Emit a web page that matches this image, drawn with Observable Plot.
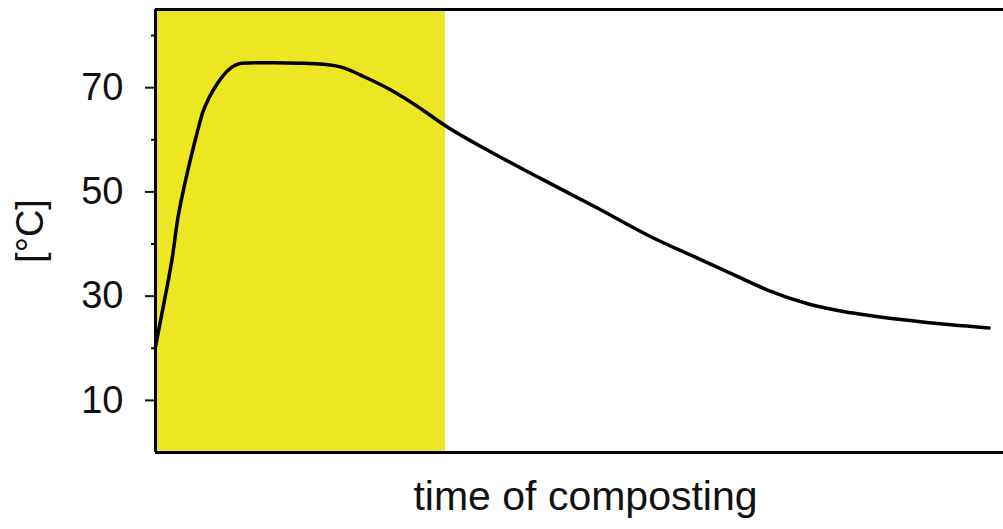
<!DOCTYPE html>
<html>
<head>
<meta charset="utf-8">
<script src="https://cdn.jsdelivr.net/npm/d3@7"></script>
<script src="https://cdn.jsdelivr.net/npm/@observablehq/plot@0.6"></script>
<style>
  html, body { margin: 0; padding: 0; background: white; }
  #chart { width: 1003px; height: 529px; }
</style>
</head>
<body>
<div id="chart"></div>
<script>
// time of composting (arbitrary units, 0–100 across the plot width)
const days = [0, 1.0, 2.0, 2.6, 3.3, 4.1, 4.9, 5.6, 6.3, 7.3, 8.6, 10.2, 14.0, 17.1, 18.7, 21.8, 24.6, 27.7, 30.9, 34.0, 39.5, 45.4, 52.1, 58.4, 63.9, 69.0, 72.1, 77.2, 82.0, 87.9, 93.8, 98.3];
// temperature [°C]
const temps = [20.3, 28.7, 37.6, 44.6, 50.4, 56.1, 61.3, 65.4, 68.0, 70.8, 73.4, 74.7, 74.8, 74.7, 74.6, 74.0, 72.1, 69.6, 66.4, 62.9, 57.7, 52.6, 46.9, 41.4, 37.3, 33.5, 31.2, 28.4, 26.8, 25.5, 24.5, 23.9];
// thermophilic phase (highlighted band)
const phaseStart = [0];
const phaseEnd = [34.2];
// axis ticks
const majorTicks = [10, 30, 50, 70];
const minorTicks = [20, 40, 60, 80];
const yDomain = [0, 85];
const xDomain = [0, 100];
const xLabel = "time of composting";
const yLabel = "[°C]";

const series = days.map((d, i) => ({day: d, temp: temps[i]}));
const bands = phaseStart.map((s, i) => ({x1: s, x2: phaseEnd[i]}));

const chart = Plot.plot({
  width: 1003,
  height: 529,
  marginLeft: 155,
  marginRight: 0,
  marginTop: 9,
  marginBottom: 77,
  style: {fontFamily: "'Liberation Sans', Arial, sans-serif", color: "#111", background: "white"},
  x: {domain: xDomain, axis: null},
  y: {domain: yDomain, axis: null},
  marks: [
    Plot.rect(bands, {x1: "x1", x2: "x2", y1: yDomain[0], y2: yDomain[1], fill: "#ebe722"}),
    Plot.line(series, {x: "day", y: "temp", stroke: "black", strokeWidth: 3.5, curve: "monotone-x"}),
    Plot.ruleY([yDomain[0], yDomain[1]], {stroke: "black", strokeWidth: 3}),
    Plot.ruleX([xDomain[0]], {stroke: "black", strokeWidth: 3}),
    Plot.axisY({ticks: majorTicks, tickSize: 10, tickPadding: 22, fontSize: 38, strokeWidth: 2, label: null, fill: "#111"}),
    Plot.axisY({ticks: minorTicks, tickSize: 4, strokeWidth: 2, text: null, label: null}),
    Plot.text([xLabel], {frameAnchor: "bottom", textAnchor: "middle", dx: 6, dy: 57, fontSize: 41, fill: "#111"}),
    Plot.text([yLabel], {frameAnchor: "left", textAnchor: "middle", rotate: -90, dx: -125, fontSize: 38, fill: "#111"})
  ]
});
document.getElementById("chart").appendChild(chart);
</script>
</body>
</html>
